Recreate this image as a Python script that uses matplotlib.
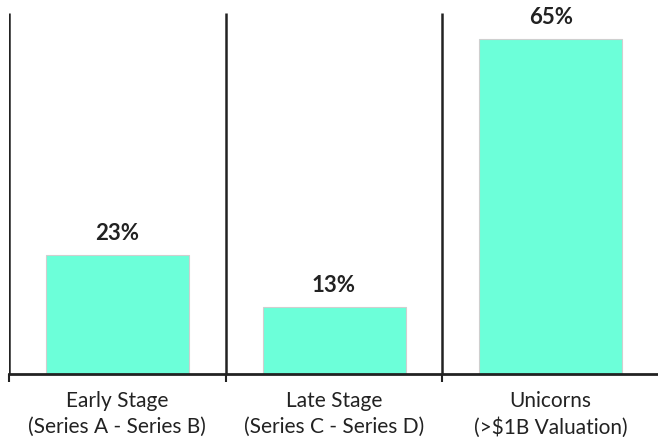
import matplotlib
matplotlib.use("Agg")
import matplotlib.pyplot as plt

categories = ["Early Stage\n(Series A - Series B)",
              "Late Stage\n(Series C - Series D)",
              "Unicorns\n(>$1B Valuation)"]
values = [23, 13, 65]
value_labels = ["23%", "13%", "65%"]

bar_color = "#6cffd9"
ink = "#222222"

fig = plt.figure(figsize=(6.58, 4.37), dpi=100)
ax = fig.add_axes([9 / 658, 63 / 437, 650 / 658, 361 / 437])

x = list(range(len(categories)))
ax.bar(x, values, width=0.66, color=bar_color, edgecolor="#cfcfcf", linewidth=0.8, zorder=2)

for xi, v, lab in zip(x, values, value_labels):
    ax.annotate(lab, (xi, v), xytext=(0, 8), textcoords="offset points",
                ha="center", va="bottom", fontsize=16, fontweight="bold",
                color=ink, family="Lato")

ax.set_xlim(-0.5, 2.5)
ax.set_ylim(0, 70)

# separators between the groups
for sx in [-0.5, 0.5, 1.5]:
    ax.vlines(sx, 0, 70, color=ink, linewidth=1.8, zorder=3)

for side in ["left", "right", "top"]:
    ax.spines[side].set_visible(False)
ax.spines["bottom"].set_color(ink)
ax.spines["bottom"].set_linewidth(2)
ax.spines["bottom"].set_zorder(4)

ax.set_yticks([])
ax.set_xticks([-0.5, 0.5, 1.5])
ax.set_xticklabels([])
ax.tick_params(axis="x", which="major", length=6, width=1.5, color=ink)
ax.set_xticks(x, minor=True)
ax.set_xticklabels(categories, minor=True, fontsize=15, color=ink, family="Lato",
                   linespacing=1.4)
ax.tick_params(axis="x", which="minor", length=0, pad=12)

fig.savefig("out.png", dpi=100)
